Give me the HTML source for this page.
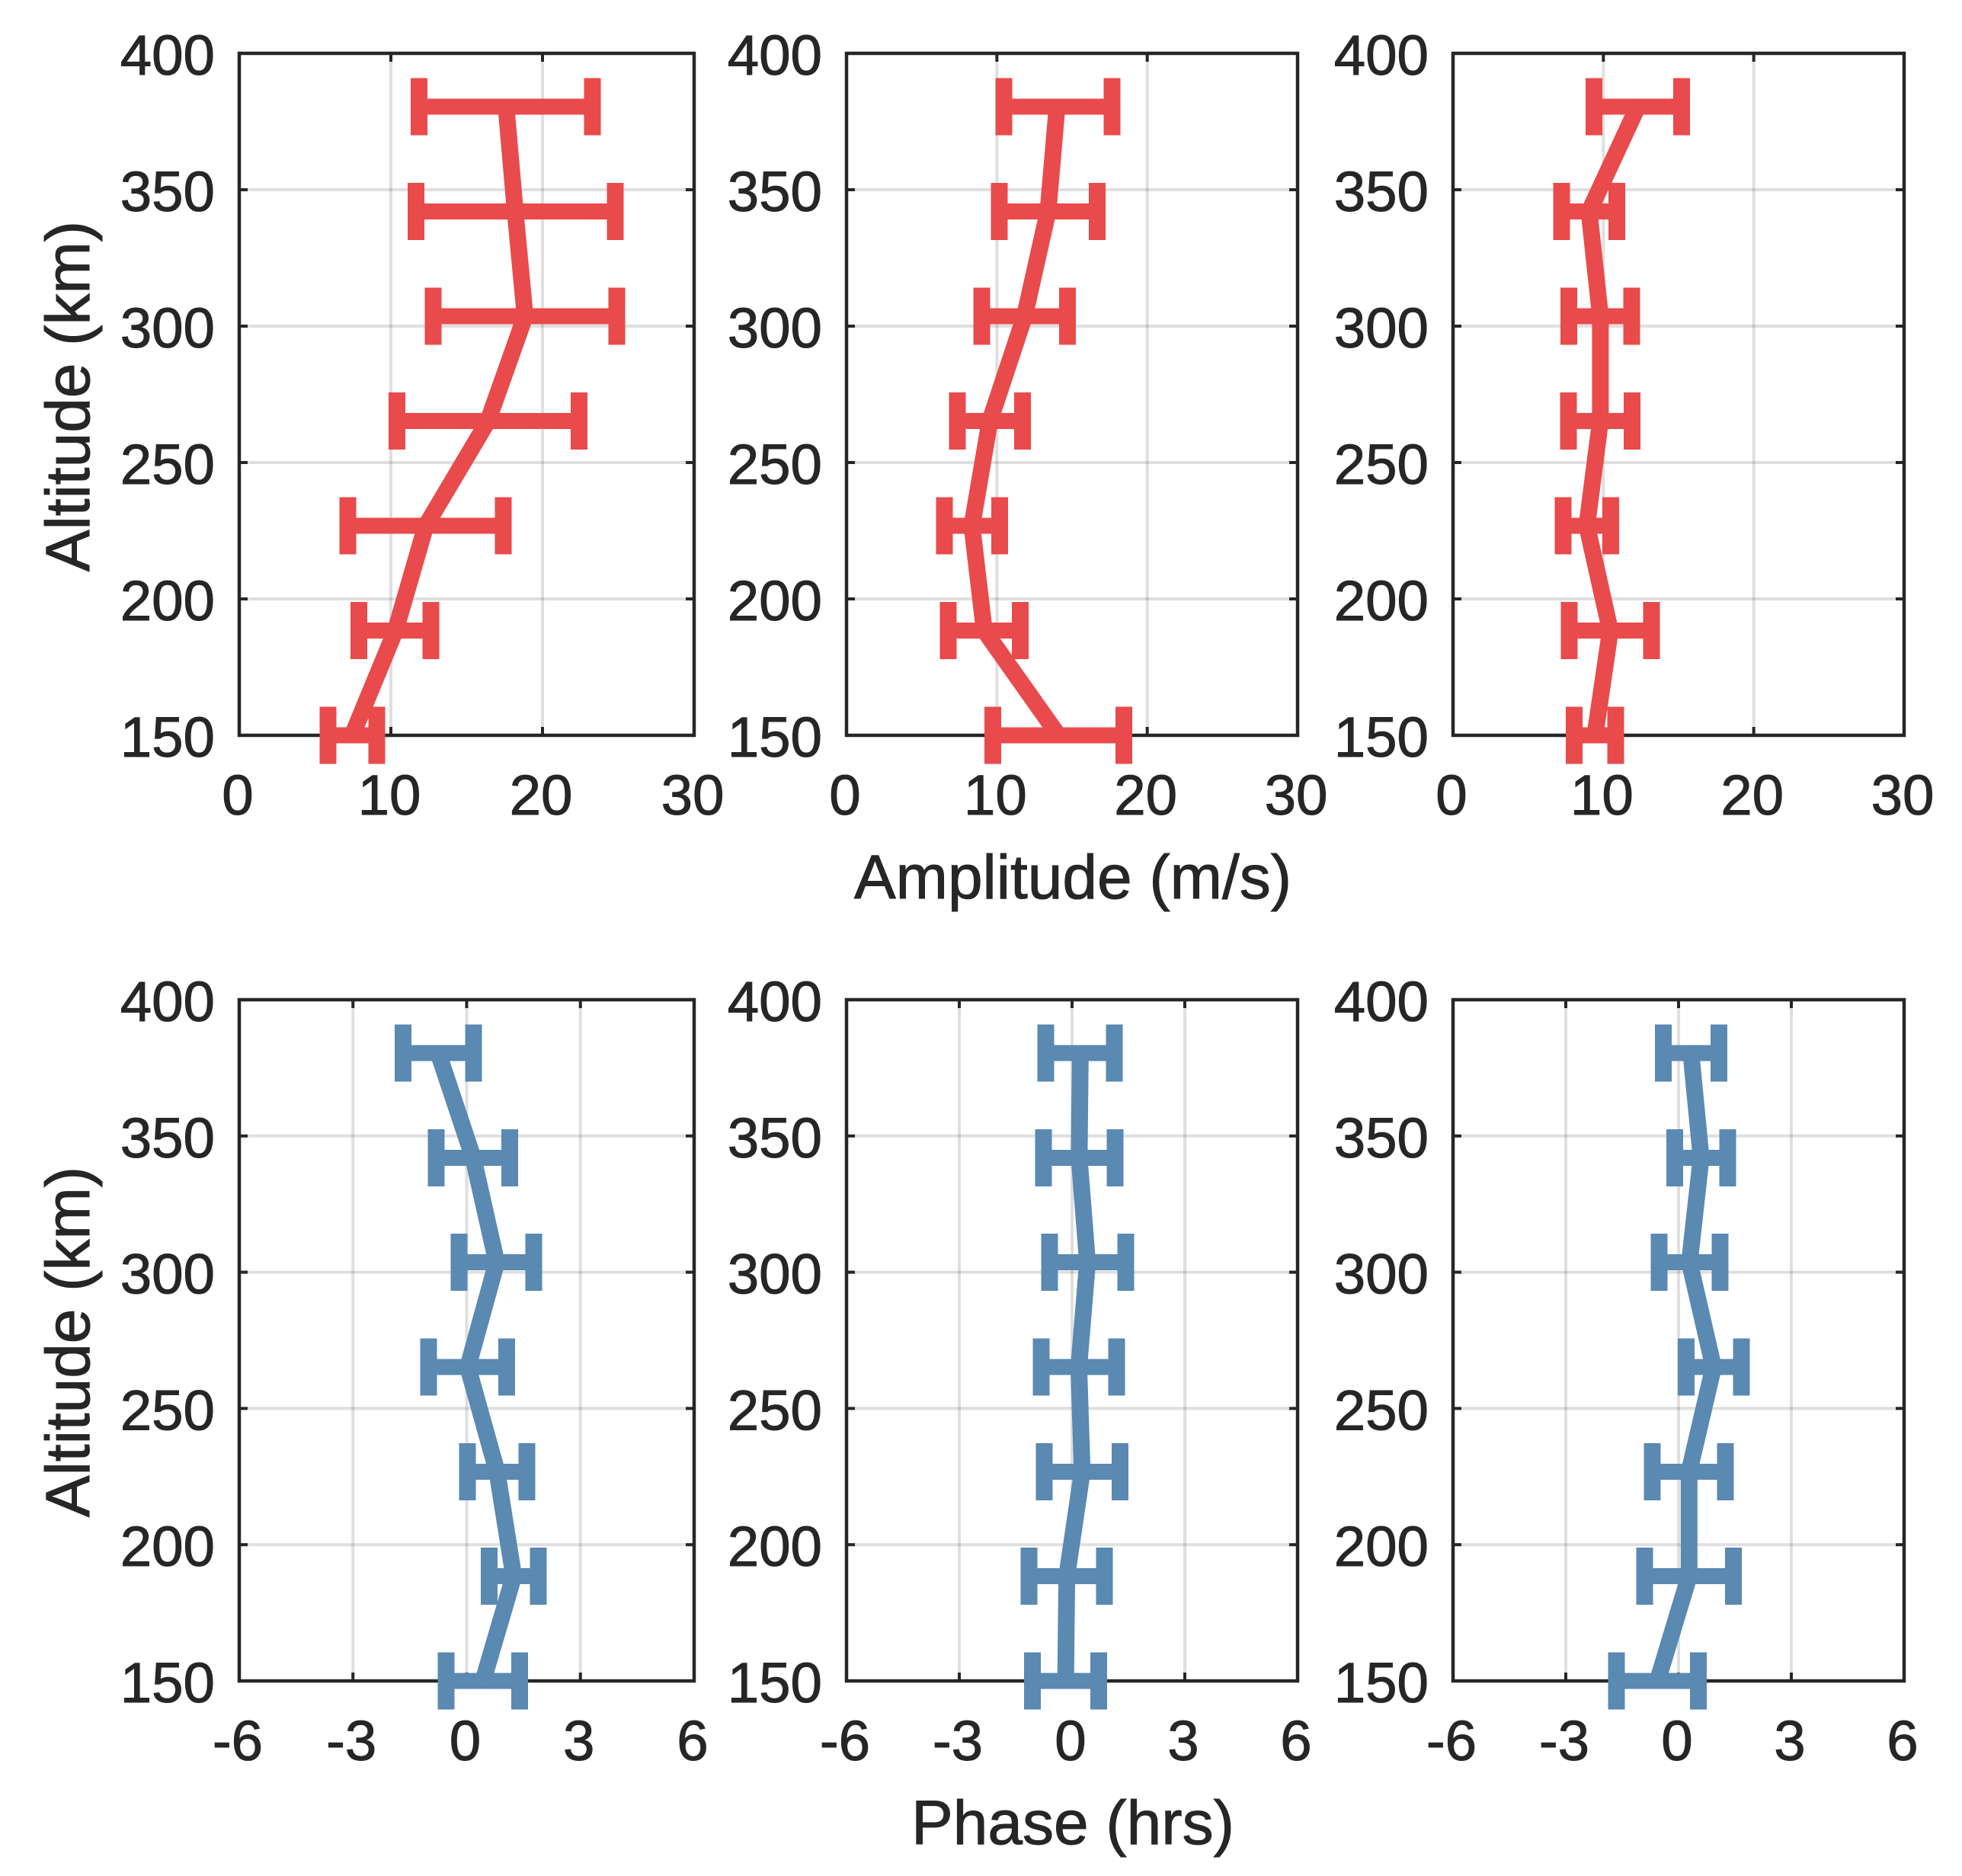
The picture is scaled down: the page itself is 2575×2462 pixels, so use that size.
<!DOCTYPE html>
<html lang="en">
<head>
<meta charset="utf-8">
<title>Amplitude and phase profiles by altitude</title>
<style>
html,body{margin:0;padding:0;background:#fff;}
svg{display:block;font-family:"Liberation Sans",Arial,sans-serif;}
text{fill:#262626;stroke:#262626;stroke-width:1;}
</style>
</head>
<body>
<svg id="chart" xmlns="http://www.w3.org/2000/svg" width="2575" height="2462" viewBox="0 0 2575 2462">
<rect x="0" y="0" width="2575" height="2462" fill="#ffffff"/>
<text x="1408" y="1179" font-size="82" text-anchor="middle">Amplitude (m/s)</text>
<text x="1408" y="2420" font-size="82" text-anchor="middle">Phase (hrs)</text>
<text transform="translate(117 520) rotate(-90)" font-size="82" text-anchor="middle">Altitude (km)</text>
<text transform="translate(117 1761) rotate(-90)" font-size="82" text-anchor="middle">Altitude (km)</text>
</svg>
<script>
// Shared altitude levels (km), top to bottom
const altitudes = [380.4, 342, 303.6, 265.2, 226.8, 188.4, 150];
const altTicks = [150, 200, 250, 300, 350, 400];
const ampTicks = [0, 10, 20, 30];
const phaseTicks = [-6, -3, 0, 3, 6];

// Amplitude panels (m/s)
const amp1Mean = [17.6, 18.2, 18.85, 16.4, 12.3, 10.3, 7.45];
const amp1Low  = [11.85, 11.67, 12.8, 10.4, 7.15, 7.9, 5.85];
const amp1High = [23.3, 24.8, 24.9, 22.4, 17.4, 12.65, 9.07];

const amp2Mean = [14.0, 13.4, 11.84, 9.53, 8.34, 9.16, 14.09];
const amp2Low  = [10.47, 10.15, 8.99, 7.37, 6.5, 6.76, 9.73];
const amp2High = [17.67, 16.67, 14.69, 11.7, 10.18, 11.55, 18.45];

const amp3Mean = [12.28, 9.05, 9.8, 9.8, 8.9, 10.46, 9.44];
const amp3Low  = [9.37, 7.21, 7.7, 7.68, 7.31, 7.72, 8.05];
const amp3High = [15.2, 10.89, 11.89, 11.92, 10.49, 13.2, 10.83];

// Phase panels (hrs)
const phase1Mean = [-0.75, 0.17, 0.79, 0.03, 0.8, 1.24, 0.43];
const phase1Low  = [-1.68, -0.8, -0.2, -1.01, 0.02, 0.59, -0.54];
const phase1High = [0.18, 1.14, 1.77, 1.06, 1.59, 1.89, 1.4];

const phase2Mean = [0.22, 0.19, 0.41, 0.18, 0.27, -0.14, -0.17];
const phase2Low  = [-0.7, -0.76, -0.6, -0.82, -0.74, -1.15, -1.05];
const phase2High = [1.13, 1.15, 1.43, 1.19, 1.28, 0.86, 0.71];

const phase3Mean = [0.33, 0.6, 0.29, 0.93, 0.28, 0.28, -0.56];
const phase3Low  = [-0.41, -0.1, -0.52, 0.2, -0.7, -0.9, -1.65];
const phase3High = [1.07, 1.31, 1.1, 1.67, 1.25, 1.46, 0.53];

const SVG_NS = 'http://www.w3.org/2000/svg';
const chart = document.getElementById('chart');
const INK = '#262626';
const GRID = 'rgba(38,38,38,0.15)';
const RED = '#E94A4B';
const BLUE = '#5A89B2';

function make(tag, parent) {
  const el = document.createElementNS(SVG_NS, tag);
  parent.appendChild(el);
  return el;
}

function drawPanel(name, left, right, top, bottom, xTicks, color, mean, low, high) {
  const xMin = xTicks[0];
  const xMax = xTicks[xTicks.length - 1];
  const xScale = v => left + (v - xMin) / (xMax - xMin) * (right - left);
  const yScale = a => bottom - (a - 150) / 250 * (bottom - top);

  const g = make('g', chart);
  
  

  // grid lines
  xTicks.slice(1, -1).forEach(t => {
    const line = make('line', g);
    
    
    line.setAttribute('x1', xScale(t)); line.setAttribute('x2', xScale(t));
    line.setAttribute('y1', top); line.setAttribute('y2', bottom);
    line.setAttribute('stroke', GRID); line.setAttribute('stroke-width', 4);
  });
  altTicks.slice(1, -1).forEach(t => {
    const line = make('line', g);
    
    
    line.setAttribute('x1', left); line.setAttribute('x2', right);
    line.setAttribute('y1', yScale(t)); line.setAttribute('y2', yScale(t));
    line.setAttribute('stroke', GRID); line.setAttribute('stroke-width', 4);
  });

  // tick marks on all four sides
  const TICK = 11;
  xTicks.slice(1, -1).forEach(t => {
    [[top, top + TICK], [bottom, bottom - TICK]].forEach(pair => {
      const tick = make('line', g);
      
      
      tick.setAttribute('x1', xScale(t)); tick.setAttribute('x2', xScale(t));
      tick.setAttribute('y1', pair[0]); tick.setAttribute('y2', pair[1]);
      tick.setAttribute('stroke', INK); tick.setAttribute('stroke-width', 4);
    });
  });
  altTicks.slice(1, -1).forEach(t => {
    [[left, left + TICK], [right, right - TICK]].forEach(pair => {
      const tick = make('line', g);
      
      
      tick.setAttribute('x1', pair[0]); tick.setAttribute('x2', pair[1]);
      tick.setAttribute('y1', yScale(t)); tick.setAttribute('y2', yScale(t));
      tick.setAttribute('stroke', INK); tick.setAttribute('stroke-width', 4);
    });
  });

  // axes frame
  const frame = make('rect', g);
  
  
  frame.setAttribute('x', left); frame.setAttribute('y', top);
  frame.setAttribute('width', right - left); frame.setAttribute('height', bottom - top);
  frame.setAttribute('fill', 'none'); frame.setAttribute('stroke', INK); frame.setAttribute('stroke-width', 4.5);

  // tick labels
  xTicks.forEach(t => {
    const label = make('text', g);
    
    
    label.setAttribute('x', xScale(t) - 2);
    label.setAttribute('y', bottom + 104);
    label.setAttribute('font-size', 74.5);
    label.setAttribute('text-anchor', 'middle');
    label.textContent = String(t);
  });
  altTicks.forEach(t => {
    const label = make('text', g);
    
    
    label.setAttribute('x', left - 32);
    label.setAttribute('y', yScale(t) + 28);
    label.setAttribute('font-size', 74.5);
    label.setAttribute('text-anchor', 'end');
    label.textContent = String(t);
  });

  // error bars
  altitudes.forEach((a, i) => {
    const y = yScale(a);
    const bar = make('rect', g);
    
    
    bar.setAttribute('x', xScale(low[i]));
    bar.setAttribute('y', y - 10.5);
    bar.setAttribute('width', xScale(high[i]) - xScale(low[i]));
    bar.setAttribute('height', 21);
    bar.setAttribute('fill', color);
    bar.setAttribute('shape-rendering', 'crispEdges');
    [low[i], high[i]].forEach(v => {
      const cap = make('rect', g);
      
      
      cap.setAttribute('x', xScale(v) - 11);
      cap.setAttribute('y', y - 37.5);
      cap.setAttribute('width', 22);
      cap.setAttribute('height', 75);
      cap.setAttribute('fill', color);
      cap.setAttribute('shape-rendering', 'crispEdges');
    });
  });

  // mean profile line
  const path = make('polyline', g);
  
  
  path.setAttribute('points', altitudes.map((a, i) => xScale(mean[i]) + ',' + yScale(a)).join(' '));
  path.setAttribute('fill', 'none');
  path.setAttribute('stroke', color);
  path.setAttribute('stroke-width', 22);
  path.setAttribute('stroke-linejoin', 'miter');
  path.setAttribute('stroke-miterlimit', 10);
}

drawPanel('amplitude-1', 314, 911, 70, 965, ampTicks, RED, amp1Mean, amp1Low, amp1High);
drawPanel('amplitude-2', 1111, 1703, 70, 965, ampTicks, RED, amp2Mean, amp2Low, amp2High);
drawPanel('amplitude-3', 1907, 2499, 70, 965, ampTicks, RED, amp3Mean, amp3Low, amp3High);
drawPanel('phase-1', 314, 911, 1312, 2206, phaseTicks, BLUE, phase1Mean, phase1Low, phase1High);
drawPanel('phase-2', 1111, 1703, 1312, 2206, phaseTicks, BLUE, phase2Mean, phase2Low, phase2High);
drawPanel('phase-3', 1907, 2499, 1312, 2206, phaseTicks, BLUE, phase3Mean, phase3Low, phase3High);
</script>
</body>
</html>
